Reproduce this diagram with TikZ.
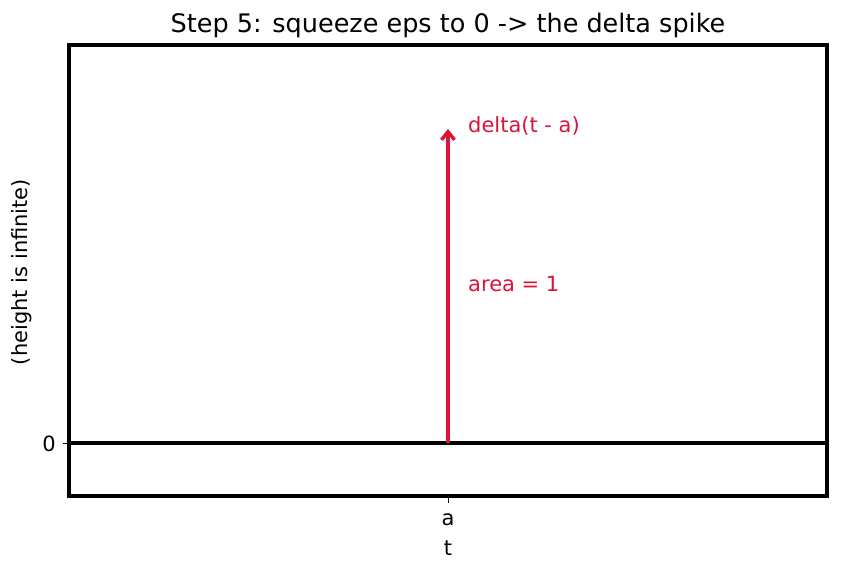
\documentclass[tikz,border=0pt]{standalone}
\usepackage{fontspec}
\setmainfont{DejaVu Sans}
\usetikzlibrary{arrows.meta}
\definecolor{crim}{HTML}{DC143C}
\begin{document}
\begin{tikzpicture}[x=1pt,y=-1pt,
  frame/.style={line width=4pt, line join=miter},
  axisline/.style={line width=3.5pt},
  tick/.style={line width=1pt},
  ticklab/.style={font=\fontsize{21}{24}\selectfont, inner sep=0pt},
  redlab/.style={font=\fontsize{21}{24}\selectfont, text=crim, inner sep=0pt, anchor=west},
  spike/.style={line width=3.5pt, draw=crim, -{Straight Barb[length=8pt,width=13pt,line width=3.5pt]}}]
\useasboundingbox (0,0) rectangle (842,573);
\fill[white] (0,0) rectangle (842,573);
% title
\node[font=\fontsize{25.5}{30}\selectfont, inner sep=0pt] (title) at (448,25) {Step 5: squeeze eps to 0 -> the delta spike};
% frame
\draw[frame] (69,45) rectangle (827,496);
% zero line
\coordinate (zl) at (69,443);
\coordinate (zr) at (827,443);
\draw[axisline] (zl) -- (zr);
% ticks
\coordinate (ty0) at (63,443);
\coordinate (ty1) at (69,443);
\draw[tick] (ty0) -- (ty1);
\node[ticklab, anchor=east] (zero) at (56,444) {0};
\coordinate (tx0) at (448,496);
\coordinate (tx1) at (448,503);
\draw[tick] (tx0) -- (tx1);
\node[ticklab] (alab) at (448,520) {a};
\node[ticklab] (tlab) at (448,548) {t};
% ylabel
\node[ticklab, rotate=90] (ylab) at (22,272) {(height is infinite)};
% spike
\coordinate (base) at (448,443);
\coordinate (tip) at (448,129);
\draw[spike] (base) -- (tip);
\node[redlab] (dlab) at (468,126) {delta(t - a)};
\node[redlab] (arealab) at (468,284) {area = 1};
\end{tikzpicture}
\end{document}
